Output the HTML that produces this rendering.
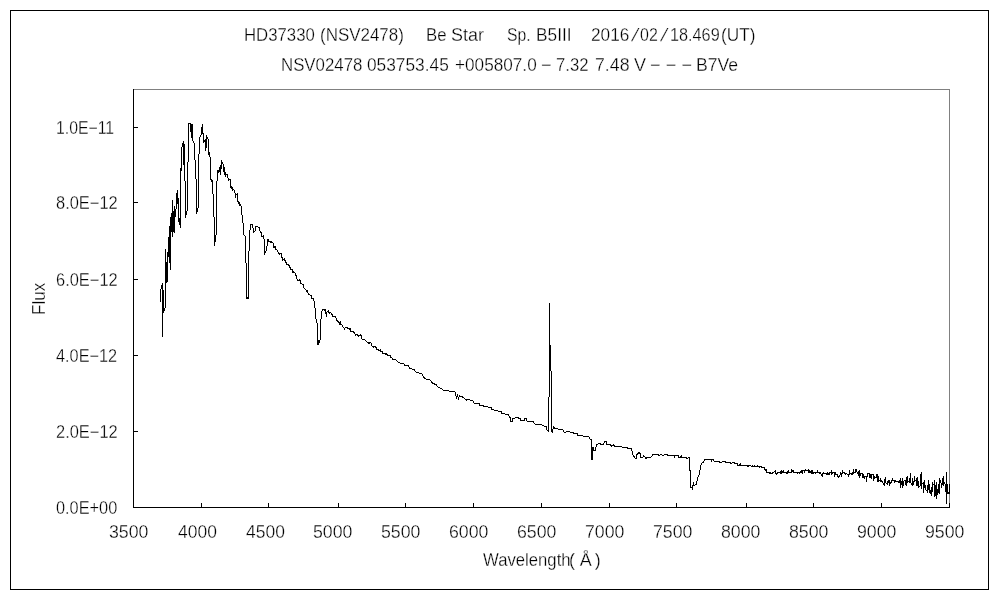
<!DOCTYPE html>
<html lang="ja">
<head>
<meta charset="utf-8">
<title>HD37330 (NSV2478) Be Star spectrum</title>
<style>
html,body{margin:0;padding:0;background:#fff;}
body{width:1000px;height:600px;position:relative;overflow:hidden;font-family:"Liberation Sans","IPAGothic",sans-serif;font-size:18px;color:#000;}
#frame{position:absolute;left:10px;top:10px;width:977px;height:578px;border:1px solid #000;}
#plot{position:absolute;left:0;top:0;width:1000px;height:600px;}
.t{position:absolute;white-space:nowrap;line-height:1;margin:0;transform-origin:0 0;-webkit-text-stroke:0.3px #fff;}
</style>
</head>
<body>
<div id="frame"></div>
<svg id="plot" width="1000" height="600" viewBox="0 0 1000 600" shape-rendering="crispEdges">
<path d="M133 89.5H950 M949.5 89V508" stroke="#808080" stroke-width="1" fill="none"/>
<path d="M133.5 89V508 M133 507.5H950 M134 127.5H138 M134 202.5H138 M134 279.5H138 M134 355.5H138 M134 431.5H138 M201.5 503V507 M268.5 503V507 M338.5 503V507 M405.5 503V507 M473.5 503V507 M541.5 503V507 M609.5 503V507 M676.5 503V507 M746.5 503V507 M813.5 503V507 M881.5 503V507 M949.5 503V507" stroke="#000" stroke-width="1" fill="none"/>
<path d="M160.5 289V302M161.5 285V289M162.5 283V337M163.5 290V313M164.5 308V311M165.5 249V308M166.5 262V283M167.5 252V282M168.5 237V257M169.5 226V263M170.5 217V270M171.5 213V232M172.5 200V237M173.5 211V232M174.5 206V233M175.5 209V217M176.5 193V209M177.5 190V204M178.5 198V222M179.5 218V225M180.5 168V228M181.5 147V171M182.5 143V147M183.5 141V165M184.5 144V181M185.5 181V218M186.5 211V215M187.5 162V211M188.5 123V162M189.5 123V124M190.5 123V132M191.5 124V138M192.5 124V141M193.5 141V143M194.5 143V160M195.5 160V179M196.5 179V214M197.5 208V212M198.5 154V208M199.5 137V154M200.5 135V137M201.5 127V135M202.5 124V134M203.5 133V143M204.5 140V142M205.5 139V151M206.5 135V148M207.5 137V139M208.5 139V155M209.5 152V157M210.5 157V180M211.5 179V182M212.5 180V194M213.5 194V217M214.5 217V246M215.5 235V242M216.5 181V235M217.5 170V181M218.5 170V173M219.5 167V172M220.5 165V175M221.5 160V169M222.5 162V164M223.5 164V172M224.5 167V175M225.5 172V177M226.5 174V175M227.5 174V178M228.5 178V181M229.5 179V180M230.5 179V188M231.5 186V189M232.5 187V191M233.5 189V190M234.5 190V193M235.5 193V198M236.5 194V195M237.5 193V202M238.5 201V204M239.5 202V206M240.5 204V206M241.5 206V215M242.5 215V223M243.5 223V235M244.5 235V236M245.5 236V263M246.5 263V299M247.5 297V299M248.5 251V299M249.5 230V251M548.5 397V432M549.5 303V397M550.5 345V371M551.5 371V432M850.5 473V474M851.5 473V475M852.5 472V475M853.5 469V474M854.5 472V473M855.5 469V473M856.5 469V472M857.5 472V474M858.5 471V476M859.5 470V478M860.5 473V476M861.5 473V474M862.5 473V478M863.5 474V478M864.5 476V479M865.5 476V477M866.5 476V482M867.5 473V477M868.5 473V474M869.5 473V478M870.5 474V478M871.5 474V479M872.5 474V475M873.5 474V481M874.5 476V479M875.5 477V478M876.5 474V478M877.5 474V482M878.5 476V482M879.5 480V481M880.5 478V482M881.5 480V482M882.5 481V483M883.5 483V485M884.5 479V486M885.5 477V483M886.5 483V484M887.5 481V485M888.5 480V483M889.5 480V486M890.5 482V484M891.5 480V483M892.5 478V481M893.5 480V481M894.5 480V483M895.5 480V482M896.5 481V482M897.5 481V482M898.5 481V483M899.5 480V483M900.5 478V488M901.5 481V485M902.5 478V488M903.5 481V486M904.5 480V481M905.5 480V485M906.5 477V486M907.5 476V483M908.5 481V482M909.5 478V483M910.5 473V483M911.5 483V485M912.5 478V486M913.5 481V485M914.5 476V482M915.5 480V481M916.5 478V486M917.5 477V486M918.5 481V488M919.5 486V487M920.5 474V486M921.5 472V489M922.5 483V484M923.5 482V493M924.5 480V488M925.5 485V490M926.5 490V491M927.5 485V493M928.5 480V490M929.5 484V493M930.5 490V494M931.5 487V496M932.5 482V492M933.5 484V485M934.5 480V497M935.5 485V496M936.5 482V499M937.5 489V495M938.5 484V493M939.5 478V494M940.5 480V483M941.5 483V488M942.5 478V485M943.5 476V486M944.5 482V484M945.5 484V492M946.5 472V504M947.5 484V494M948.5 492V494M750.5 465V466M751.5 466V467M752.5 465V467M753.5 466V467M754.5 465V467M755.5 466V467M756.5 466V467M757.5 465V467M758.5 466V467M759.5 466V468M760.5 466V467M761.5 466V468M762.5 467V468M763.5 467V468M764.5 467V470M765.5 469V471M766.5 469V473M767.5 472V473M768.5 472V473M769.5 472V474M770.5 472V474M771.5 473V474M772.5 472V474M773.5 472V473M774.5 471V472M775.5 470V474M776.5 473V475M777.5 472V474M778.5 472V473M779.5 472V473M780.5 471V474M781.5 470V474M782.5 471V473M783.5 470V473M784.5 472V473M785.5 472V473M786.5 472V474M787.5 471V474M788.5 470V473M789.5 472V473M790.5 472V473M791.5 469V473M792.5 470V472M793.5 470V473M794.5 472V473M795.5 472V473M796.5 472V473M797.5 472V474M798.5 472V473M799.5 472V474M800.5 471V473M801.5 470V473M802.5 470V474M803.5 470V471M804.5 470V473M805.5 469V471M806.5 470V471M807.5 470V471M808.5 469V473M809.5 470V473M810.5 471V473M811.5 470V474M812.5 470V474M813.5 472V474M814.5 472V473M815.5 472V474M816.5 472V473M817.5 470V473M818.5 472V473M819.5 472V474M820.5 472V474M821.5 474V476M822.5 473V477M823.5 472V474M824.5 473V474M825.5 473V474M826.5 473V475M827.5 472V475M828.5 473V475M829.5 472V475M830.5 472V473M831.5 470V475M832.5 472V474M833.5 472V473M834.5 472V477M835.5 472V475M836.5 474V475M837.5 474V477M838.5 476V478M839.5 475V477M840.5 472V475M841.5 473V477M842.5 470V474M843.5 472V473M844.5 472V474M845.5 473V475M846.5 473V474M847.5 474V475M848.5 474V477M849.5 470V475M949.5 484V494M250.5 224V230M251.5 224V225M252.5 224V228M253.5 228V233M254.5 231V232M255.5 226V231M256.5 226V227M257.5 226V227M258.5 227V228M259.5 227V231M260.5 231V233M261.5 232V237M262.5 236V237M263.5 235V239M264.5 239V255M265.5 251V253M266.5 246V251M267.5 239V246M268.5 239V242M269.5 241V242M270.5 241V243M271.5 241V243M272.5 242V243M273.5 243V248M274.5 246V248M275.5 246V250M276.5 249V250M277.5 250V252M278.5 252V254M279.5 253V255M280.5 253V254M281.5 253V258M282.5 257V261M283.5 259V260M284.5 258V261M285.5 260V263M286.5 262V265M287.5 264V265M288.5 264V266M289.5 265V268M290.5 267V270M291.5 269V270M292.5 269V273M293.5 271V273M294.5 272V273M295.5 273V276M296.5 275V279M297.5 279V281M298.5 280V281M299.5 279V281M300.5 280V284M301.5 283V284M302.5 284V285M303.5 284V288M304.5 288V289M305.5 289V290M306.5 290V292M307.5 290V293M308.5 293V295M309.5 294V295M310.5 295V296M311.5 295V299M312.5 298V299M313.5 298V301M314.5 301V308M315.5 308V319M316.5 319V323M317.5 323V345M318.5 340V345M319.5 340V343M320.5 319V340M321.5 311V319M322.5 309V311M323.5 309V310M324.5 309V311M325.5 309V314M326.5 312V317M327.5 311V312M328.5 310V313M329.5 312V314M330.5 312V313M331.5 313V315M332.5 314V317M333.5 316V317M334.5 316V317M335.5 316V318M336.5 318V321M337.5 320V322M338.5 321V323M339.5 322V325M340.5 321V325M341.5 324V325M342.5 325V327M343.5 327V328M344.5 328V330M345.5 327V328M346.5 327V328M347.5 327V329M348.5 328V329M349.5 328V330M350.5 328V332M351.5 331V332M352.5 331V332M353.5 331V333M354.5 332V334M355.5 334V336M356.5 334V335M357.5 334V336M358.5 335V337M359.5 335V336M360.5 334V336M361.5 335V339M362.5 339V340M363.5 339V340M364.5 339V340M365.5 340V341M366.5 341V342M367.5 342V343M368.5 342V344M369.5 342V344M370.5 342V343M371.5 343V346M372.5 346V347M373.5 346V348M374.5 346V347M375.5 346V348M376.5 347V350M377.5 349V350M378.5 349V351M379.5 350V351M380.5 349V352M381.5 351V352M382.5 351V354M383.5 353V354M384.5 353V354M385.5 353V355M386.5 353V355M387.5 354V356M388.5 355V356M389.5 355V356M390.5 355V358" stroke="#000" stroke-width="1" fill="none"/>
<polyline points="391.5,357.5 392.5,359 395.5,359.5 397.5,361.5 400.5,363.5 403.5,363.5 405,365.5 408.5,366 410,368.5 414,369.5 416.5,372.5 421.5,373.5 424,377.5 426.5,379.5 429.5,379.5 433,383.5 436,384.5 438.5,387.5 441.5,388.5 443.5,390.5 448,390.5 450,391.5 454.5,391.5 455.5,393 456.5,398.5 457.5,395.5 458.5,398.5 459.5,396 462,396.5 466.5,400 467.5,399.5 472.5,400.5 474,403 479,403.5 479.5,405.5 483.5,406 487.5,407 491,407.5 492,409.5 498,411 501.5,411.5 502,413.5 508.5,414.5 509.5,417 510.5,418 510.5,421.5 512.5,421.5 513,418.5 516.5,417.5 520.5,418.5 520.5,420.5 524.5,420.5 524.5,418.5 526.5,418.5 527,421 533,421.5 535.5,424.5 539,425 540,424 544,426 546.5,426.5 547,430 548.5,431.5" stroke="#000" stroke-width="1" fill="none" stroke-linejoin="miter"/>
<polyline points="551.5,431 552.5,432.5 552.5,429.5 553.5,428.5 553.5,426.5 554.5,428.5 558,429 562.5,429.5 564.5,432.5 567.5,431.5 573,432.5 574,433.5 577.5,433.5 577.5,435.5 582.5,436 588.5,436.5 590,439 591.5,440 591.5,459.5 592.5,459.5 592.5,447.5 593.5,447.5 594,450.5 595.5,450.5 596.5,444.5 599.5,443.5 601.5,444.5 603.5,444 604.5,441.5 606.5,441.5 607,444.5 610.5,444.5 611.5,446.5 613.5,444.5 614.5,446.5 621.5,446.5 622.5,447.5 627.5,447.5 628,448.5 631.5,448.5 632.5,454 635,458 636.5,458.5 637,454.5 639,452.5 640.5,454 640.5,457.5 643,457.5 643.5,455.5 646,458.5 647.5,457 651,457 653,454.5 658.5,454.5 659,455.5 661,454.5 663,455.5 665,454.5 667,454.5 668,455.5 674,455.5 674.5,457.5 675,455.5 678,455.5 678.5,457.5 680.5,457.5 681.5,455.5 681.5,457.5 686,457.5 686.5,458.5 689,457.5 689.5,458.5 689.5,470.5 690.5,471 690.5,487.5 692,487.5 692.5,488.5 693.5,482.5 694,485.5 696.5,484 697.5,477.5 699.5,474.5 700.5,466.5 701.5,463.5 704,461.5 704.5,459.5 711,459.5 711.5,461.5 712,459.5 713,459.5 714.5,461.5 719,461.5 719.5,462.5 725,461.5 725.5,462.5 730,462.5 730.5,463.5 734,462.5 734.5,463.5 737.5,463.5 737.5,465.5 739,465.5 740.5,463.5 741,465.5 747,465.5 748,466.5 749,465.5 750.5,465.5" stroke="#000" stroke-width="1" fill="none" stroke-linejoin="miter"/>
</svg>
<span class="t" id="a0" style="left:244.46px;top:25.90px;transform:scaleX(0.9304);">HD37330</span>
<span class="t" id="a1" style="left:319.52px;top:25.90px;transform:scaleX(0.9420);">(NSV2478)</span>
<span class="t" id="a2" style="left:425.56px;top:25.90px;transform:scaleX(0.9331);">Be</span>
<span class="t" id="a3" style="left:450.86px;top:25.90px;transform:scaleX(0.9984);">Star</span>
<span class="t" id="a4" style="left:506.56px;top:25.90px;transform:scaleX(0.8734);">Sp.</span>
<span class="t" id="a5" style="left:536.02px;top:25.90px;transform:scaleX(0.9603);">B5III</span>
<span class="t" id="a6" style="left:591.09px;top:25.90px;transform:scaleX(0.9579);">2016</span>
<span class="t" id="a7" style="left:635.05px;top:25.90px;transform:skewX(-15deg);">/</span>
<span class="t" id="a8" style="left:640.15px;top:25.90px;transform:scaleX(0.8867);">02</span>
<span class="t" id="a9" style="left:664.35px;top:25.90px;transform:skewX(-15deg);">/</span>
<span class="t" id="a10" style="left:670.10px;top:25.90px;transform:scaleX(0.9019);">18.469</span>
<span class="t" id="a11" style="left:720.90px;top:25.90px;transform:scaleX(0.9591);">(UT)</span>
<span class="t" id="b0" style="left:280.50px;top:55.70px;transform:scaleX(0.9348);">NSV02478</span>
<span class="t" id="b1" style="left:367.36px;top:55.70px;transform:scaleX(0.9612);">053753.45</span>
<span class="t" id="b2" style="left:454.60px;top:55.70px;transform:scaleX(0.9545);">+005807.0</span>
<span class="t" id="b3" style="left:541.04px;top:55.70px;">−</span>
<span class="t" id="b4" style="left:556.02px;top:55.70px;transform:scaleX(0.9258);">7.32</span>
<span class="t" id="b5" style="left:594.97px;top:55.70px;transform:scaleX(0.9848);">7.48</span>
<span class="t" id="b6" style="left:634.27px;top:55.70px;transform:scaleX(1.0018);">V</span>
<span class="t" id="b7" style="left:649.92px;top:55.70px;">−</span>
<span class="t" id="b8" style="left:665.84px;top:55.70px;">−</span>
<span class="t" id="b9" style="left:681.44px;top:55.70px;">−</span>
<span class="t" id="b10" style="left:696.24px;top:55.70px;transform:scaleX(0.9801);">B7Ve</span>
<span class="t" id="y0" style="left:56.38px;top:119.00px;transform:scaleX(0.8783);">1.0E−11</span>
<span class="t" id="y1" style="left:55.59px;top:194.00px;transform:scaleX(0.9132);">8.0E−12</span>
<span class="t" id="y2" style="left:55.59px;top:271.00px;transform:scaleX(0.9132);">6.0E−12</span>
<span class="t" id="y3" style="left:56.12px;top:347.00px;transform:scaleX(0.9052);">4.0E−12</span>
<span class="t" id="y4" style="left:55.59px;top:423.00px;transform:scaleX(0.9132);">2.0E−12</span>
<span class="t" id="y5" style="left:55.84px;top:499.00px;transform:scaleX(0.9071);">0.0E+00</span>
<span class="t" id="x0" style="left:109.32px;top:523.20px;transform:scaleX(0.9848);">3500</span>
<span class="t" id="x1" style="left:177.89px;top:523.20px;transform:scaleX(0.9701);">4000</span>
<span class="t" id="x2" style="left:245.89px;top:523.20px;transform:scaleX(0.9701);">4500</span>
<span class="t" id="x3" style="left:313.32px;top:523.20px;transform:scaleX(0.9848);">5000</span>
<span class="t" id="x4" style="left:381.32px;top:523.20px;transform:scaleX(0.9848);">5500</span>
<span class="t" id="x5" style="left:449.32px;top:523.20px;transform:scaleX(0.9848);">6000</span>
<span class="t" id="x6" style="left:517.32px;top:523.20px;transform:scaleX(0.9848);">6500</span>
<span class="t" id="x7" style="left:585.32px;top:523.20px;transform:scaleX(0.9848);">7000</span>
<span class="t" id="x8" style="left:653.32px;top:523.20px;transform:scaleX(0.9848);">7500</span>
<span class="t" id="x9" style="left:721.32px;top:523.20px;transform:scaleX(0.9848);">8000</span>
<span class="t" id="x10" style="left:789.32px;top:523.20px;transform:scaleX(0.9848);">8500</span>
<span class="t" id="x11" style="left:857.32px;top:523.20px;transform:scaleX(0.9848);">9000</span>
<span class="t" id="x12" style="left:925.32px;top:523.20px;transform:scaleX(0.9848);">9500</span>
<span class="t" id="wl" style="left:482.98px;top:550.80px;transform:scaleX(0.9280);">Wavelength</span>
<span class="t" id="wp" style="left:569.06px;top:550.80px;">(</span>
<span class="t" id="wa" style="left:579.75px;top:550.80px;">Å</span>
<span class="t" id="wq" style="left:594.70px;top:550.80px;">)</span>
<span class="t" id="flux" style="left:30.10px;top:314.52px;transform:rotate(-90deg) scaleX(0.9506);">Flux</span>
</body>
</html>
